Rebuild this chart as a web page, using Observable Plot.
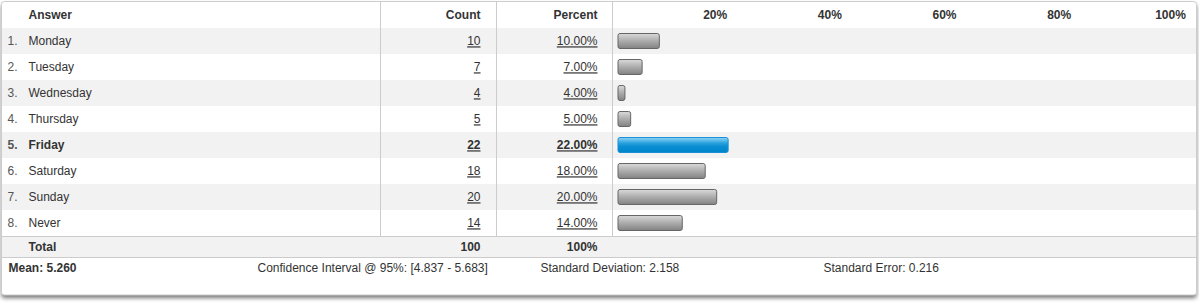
<!DOCTYPE html>
<html><head><meta charset="utf-8">
<script src="https://cdn.jsdelivr.net/npm/d3@7"></script>
<script src="https://cdn.jsdelivr.net/npm/@observablehq/plot@0.6"></script>
<style>
body{margin:0;background:#fff;}
#chart svg{display:block;}
g[fill="#323232"] text{text-decoration:underline;}
</style>
</head><body><div id="chart"></div>
<script>
// ---- data ----
const answers = ["Monday","Tuesday","Wednesday","Thursday","Friday","Saturday","Sunday","Never"];
const counts = [10,7,4,5,22,18,20,14];
const percents = [10,7,4,5,22,18,20,14];
const highlight = "Friday";
const tickValues = [20,40,60,80,100];
const totalCount = 100;
const totalPercent = 100;
const meanValue = 5.260;
const ciLow = 4.837, ciHigh = 5.683;
const stdDev = 2.158;
const stdErr = 0.216;

// ---- table built from arrays ----
const HEADER = "\u0001header", TOTAL = "\u0001total";
const rows = answers.map((answer, i) => ({index: i + 1, answer, count: counts[i], percent: percents[i]}));
const font = "Arial, 'Liberation Sans', sans-serif";
const ink = "#333";
const linkInk = "#323232";

function el(tag, attrs) {
  const e = document.createElementNS("http://www.w3.org/2000/svg", tag);
  for (const k in attrs) e.setAttribute(k, attrs[k]);
  return e;
}

function background(index, scales) {
  const g = el("g", {});
  const defs = el("defs", {});
  const f = el("filter", {id: "shadow", x: "-5%", y: "-20%", width: "110%", height: "140%"});
  f.appendChild(el("feDropShadow", {dx: 0, dy: 3, stdDeviation: 2, "flood-color": "#000", "flood-opacity": 0.55}));
  defs.appendChild(f);
  const gg = el("linearGradient", {id: "barGray", x1: 0, y1: 0, x2: 0, y2: 1});
  [["0%","#dadada"],["45%","#b0b0b0"],["100%","#828282"]].forEach(([o,c]) => gg.appendChild(el("stop", {offset: o, "stop-color": c})));
  defs.appendChild(gg);
  const gb = el("linearGradient", {id: "barBlue", x1: 0, y1: 0, x2: 0, y2: 1});
  [["0%","#8fd4f5"],["40%","#249fdc"],["60%","#0a8dd2"],["100%","#0085ca"]].forEach(([o,c]) => gb.appendChild(el("stop", {offset: o, "stop-color": c})));
  defs.appendChild(gb);
  g.appendChild(defs);
  g.appendChild(el("rect", {x: 1.5, y: 1.5, width: 1195, height: 293.5, rx: 3, fill: "#fff", filter: "url(#shadow)"}));
  return g;
}

function gridLines(index, scales) {
  const g = el("g", {stroke: "#cccccc", fill: "none"});
  const y = scales.y;
  const yTotal = y(TOTAL);
  const x0 = Math.round(scales.x(0)) + 0.5;
  [380.5, 496.5, x0].forEach(xx => g.appendChild(el("line", {x1: xx, x2: xx, y1: 2, y2: yTotal})));
  [yTotal + 0.5, yTotal + 21.5].forEach(yy => g.appendChild(el("line", {x1: 2, x2: 1196, y1: yy, y2: yy})));
  g.appendChild(el("rect", {x: 1.5, y: 1.5, width: 1195, height: 293.5, rx: 3}));
  return g;
}

const normal = d => d.answer !== highlight;
const bold = d => d.answer === highlight;

function rowTexts(filter, weight) {
  return [
    Plot.text(rows, {filter, y: "answer", text: d => d.index + ".", frameAnchor: "left", dx: 7, textAnchor: "start", fill: "#555", fontWeight: weight}),
    Plot.text(rows, {filter, y: "answer", text: "answer", frameAnchor: "left", dx: 28, textAnchor: "start", fill: ink, fontWeight: weight}),
    Plot.text(rows, {filter, y: "answer", text: d => String(d.count), frameAnchor: "left", dx: 480, textAnchor: "end", fill: linkInk, fontWeight: weight}),
    Plot.text(rows, {filter, y: "answer", text: d => d.percent.toFixed(2) + "%", frameAnchor: "left", dx: 597, textAnchor: "end", fill: linkInk, fontWeight: weight})
  ];
}

const barOpts = {y: "answer", x1: d => 0, x2: "percent", rx: 2, insetLeft: 6, insetRight: 10, insetTop: 5.5, insetBottom: 5.5};

const chart = Plot.plot({
  width: 1199,
  height: 303,
  marginLeft: 0, marginRight: 0, marginTop: 0, marginBottom: 0,
  style: {fontFamily: font, fontSize: "12px", color: ink, background: "transparent", overflow: "visible"},
  x: {domain: [0, 100], range: [612, 1185.4], axis: null},
  y: {type: "band", domain: [HEADER, ...answers, TOTAL], range: [2, 262], padding: 0, axis: null},
  marks: [
    background,
    Plot.cell(rows, {filter: (d, i) => i % 2 === 0, y: "answer", fill: "#f2f2f2", insetLeft: 2, insetRight: 3}),
    Plot.cell([TOTAL], {y: d => d, fill: "#f2f2f2", insetLeft: 2, insetRight: 3, insetBottom: 5}),
    gridLines,
    // header
    Plot.text(["Answer"], {y: d => HEADER, text: d => d, frameAnchor: "left", dx: 28, textAnchor: "start", fontWeight: "bold", fill: ink}),
    Plot.text(["Count"], {y: d => HEADER, text: d => d, frameAnchor: "left", dx: 480, textAnchor: "end", fontWeight: "bold", fill: ink}),
    Plot.text(["Percent"], {y: d => HEADER, text: d => d, frameAnchor: "left", dx: 597, textAnchor: "end", fontWeight: "bold", fill: ink}),
    Plot.text(tickValues, {x: d => d, y: d => HEADER, text: d => d + "%", textAnchor: "end", fontWeight: "bold", fill: ink}),
    // bars
    Plot.barX(rows, {...barOpts, filter: normal, fill: "url(#barGray)", stroke: "#666666"}),
    Plot.barX(rows, {...barOpts, filter: bold, fill: "url(#barBlue)", stroke: "#1b8fd3"}),
    // rows
    ...rowTexts(normal, "normal"),
    ...rowTexts(bold, "bold"),
    // total
    Plot.text(["Total"], {y: d => TOTAL, text: d => d, frameAnchor: "left", dx: 28, dy: -2.5, textAnchor: "start", fontWeight: "bold", fill: ink}),
    Plot.text([totalCount], {y: d => TOTAL, text: d => String(d), frameAnchor: "left", dx: 480, dy: -2.5, textAnchor: "end", fontWeight: "bold", fill: ink}),
    Plot.text([totalPercent], {y: d => TOTAL, text: d => d + "%", frameAnchor: "left", dx: 597, dy: -2.5, textAnchor: "end", fontWeight: "bold", fill: ink}),
    // footer stats
    Plot.text([meanValue], {y: d => TOTAL, text: d => "Mean: " + d.toFixed(3), frameAnchor: "left", dx: 8, dy: 19, textAnchor: "start", fontWeight: "bold", fill: ink}),
    Plot.text([[ciLow, ciHigh]], {y: d => TOTAL, text: d => `Confidence Interval @ 95%: [${d[0].toFixed(3)} - ${d[1].toFixed(3)}]`, frameAnchor: "left", dx: 257, dy: 19, textAnchor: "start", fill: ink}),
    Plot.text([stdDev], {y: d => TOTAL, text: d => "Standard Deviation: " + d.toFixed(3), frameAnchor: "left", dx: 540, dy: 19, textAnchor: "start", fill: ink}),
    Plot.text([stdErr], {y: d => TOTAL, text: d => "Standard Error: " + d.toFixed(3), frameAnchor: "left", dx: 823, dy: 19, textAnchor: "start", fill: ink})
  ]
});
document.getElementById("chart").appendChild(chart);
// underline the count/percent "link" texts
d3.select(chart).selectAll("text").filter(function() {
  const g = this.closest("g[fill]");
  return g && g.getAttribute("fill") === linkInk;
}).style("text-decoration", "underline");
</script>
</body></html>
